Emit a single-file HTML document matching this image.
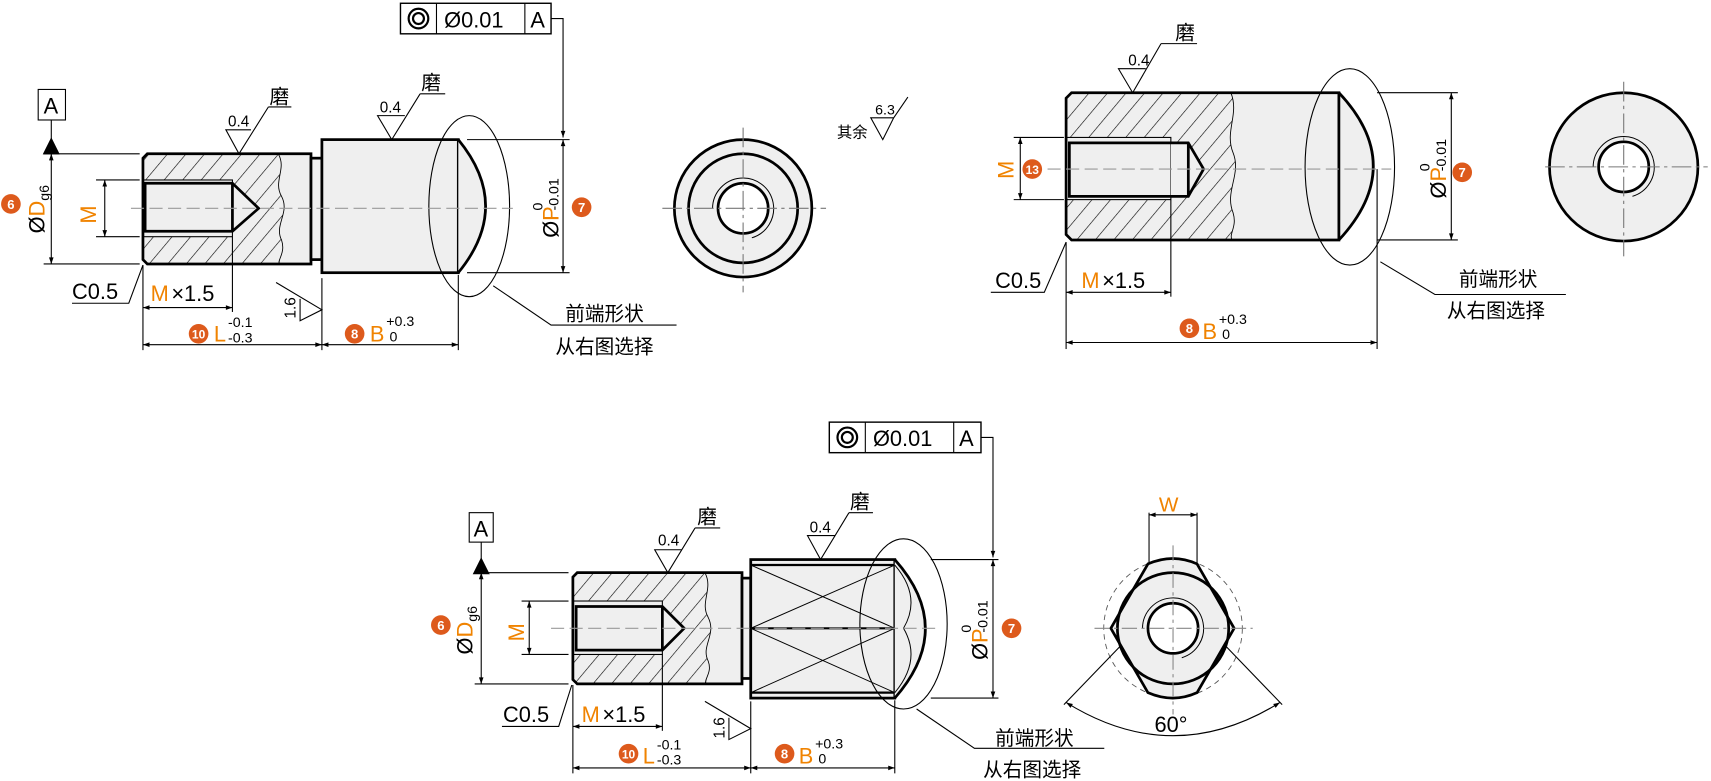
<!DOCTYPE html>
<html><head><meta charset="utf-8"><style>
html,body{margin:0;padding:0;background:#fff;}
svg{display:block;}
text{font-family:"Liberation Sans","Noto Sans CJK SC",sans-serif;}
</style></head><body>
<svg width="1711" height="781" viewBox="0 0 1568 716" preserveAspectRatio="none" xmlns="http://www.w3.org/2000/svg">
<defs>
<pattern id="h" width="13" height="13" patternUnits="userSpaceOnUse" patternTransform="rotate(40)">
<rect width="13" height="13" fill="#efefef"/><line x1="0" y1="0" x2="0" y2="13" stroke="#000" stroke-width="1.1"/></pattern>
<marker id="a" viewBox="0 0 10 10" refX="10" refY="5" markerWidth="10" markerHeight="6" orient="auto-start-reverse" markerUnits="userSpaceOnUse"><path d="M0,1.5 L10,5 L0,8.5 Z" fill="#000"/></marker>
</defs>
<g fill="none" stroke="#000" stroke-width="1">

<!-- ============ DRAWING 1 ============ -->
<rect x="367" y="3" width="138" height="28" stroke-width="1.3"/>
<line x1="400" y1="3" x2="400" y2="31"/><line x1="481" y1="3" x2="481" y2="31"/>
<circle cx="383.5" cy="17" r="9" stroke-width="2"/><circle cx="383.5" cy="17" r="5" stroke-width="2"/>
<polyline points="505,17 516,17 516,126" marker-end="url(#a)"/>
<rect x="35" y="82" width="25" height="28"/>
<line x1="47" y1="110" x2="47" y2="130"/>
<path d="M40,141 L47,127 L54,141 Z" fill="#000"/>
<path d="M135,141 L285,141 L285,242 L135,242 L131,238 L131,145 Z" fill="#efefef" stroke="none"/>
<path d="M131,145 L135,141 L255,141 C263,155 250,166 258,180 C266,195 251,206 258,220 C262,232 254,238 256,242 L135,242 L131,238 Z" fill="url(#h)" stroke="none"/>
<path d="M255,141 C263,155 250,166 258,180 C266,195 251,206 258,220 C262,232 254,238 256,242" stroke-width="0.8"/>
<rect x="131" y="165" width="82" height="52" fill="#efefef" stroke-width="1"/>
<path d="M213,168 L237,191 L213,212 Z" fill="#efefef" stroke="none"/>
<path d="M133,168 L213,168 L237,191 L213,212 L133,212 Z M213,168 L213,212" stroke-width="2.5"/>
<path d="M135,141 L285,141 L285,242 L135,242 L131,238 L131,145 Z" stroke-width="2.5"/>
<rect x="285" y="145" width="10" height="93" fill="#efefef" stroke-width="2.5"/>
<rect x="295" y="128" width="125" height="122" fill="#efefef" stroke-width="2.5"/>
<path d="M420,128 Q470,189 420,250" fill="#efefef" stroke-width="2.5"/>
<ellipse cx="430" cy="189" rx="37" ry="83"/>
<line x1="120" y1="191" x2="470" y2="191" stroke="#999" stroke-dasharray="12,5"/>
<line x1="40" y1="141" x2="128" y2="141"/><line x1="40" y1="242" x2="128" y2="242"/>
<line x1="47" y1="141" x2="47" y2="242" marker-start="url(#a)" marker-end="url(#a)"/>
<line x1="88" y1="165" x2="128" y2="165"/><line x1="88" y1="217" x2="128" y2="217"/>
<line x1="96" y1="165" x2="96" y2="217" marker-start="url(#a)" marker-end="url(#a)"/>
<line x1="428" y1="128" x2="522" y2="128"/><line x1="428" y1="250" x2="522" y2="250"/>
<line x1="516" y1="128" x2="516" y2="250" marker-start="url(#a)" marker-end="url(#a)"/>
<polyline points="66,278 118,278 131,243"/>
<line x1="213" y1="217" x2="213" y2="286"/>
<line x1="131" y1="282" x2="213" y2="282" marker-start="url(#a)" marker-end="url(#a)"/>
<line x1="131" y1="243" x2="131" y2="321"/><line x1="295" y1="255" x2="295" y2="321"/><line x1="420" y1="252" x2="420" y2="321"/>
<line x1="131" y1="316" x2="295" y2="316" marker-start="url(#a)" marker-end="url(#a)"/>
<line x1="295" y1="316" x2="420" y2="316" marker-start="url(#a)" marker-end="url(#a)"/>
<polyline points="253,259 295,284 275,294 275,274"/>
<polyline points="246,98 267,98"/><polyline points="246,98 219,141 207,119 230,119"/>
<polyline points="385,86 408,86"/><polyline points="385,86 359,128 346,106 371,106"/>
<polyline points="452,262 505,298 620,298"/>
<circle cx="681" cy="191" r="63" fill="#efefef" stroke-width="2.5"/>
<circle cx="681" cy="191" r="50" stroke-width="2.5"/>
<circle cx="681" cy="191" r="23" fill="#fff" stroke-width="2.5"/>
<path d="M653,191 A28,28 0 1,1 689,218" stroke-width="0.9"/>
<line x1="607" y1="191" x2="757" y2="191" stroke="#777" stroke-dasharray="18,4,3,4"/>
<line x1="681" y1="117" x2="681" y2="268" stroke="#777" stroke-dasharray="18,4,3,4"/>
<polyline points="832,89 819,108 798,108 809,128 819,108"/>

<!-- ============ DRAWING 2 ============ -->
<path d="M982,85 L1227,85 L1227,220 L982,220 L977,215 L977,90 Z" fill="#efefef" stroke="none"/>
<path d="M977,90 L982,85 L1128,85 C1136,105 1122,120 1130,140 C1138,160 1122,175 1130,195 C1134,208 1126,214 1129,220 L982,220 L977,215 Z" fill="url(#h)" stroke="none"/>
<path d="M1128,85 C1136,105 1122,120 1130,140 C1138,160 1122,175 1130,195 C1134,208 1126,214 1129,220" stroke-width="0.8"/>
<rect x="977" y="126" width="96" height="57" fill="#efefef"/>
<path d="M1073,131 L1089,131 L1103,155 L1089,180 L1073,180 Z" fill="#efefef" stroke="none"/>
<path d="M980,131 L1089,131 L1103,155 L1089,180 L980,180 Z M1089,131 L1089,180" stroke-width="2.5"/>
<path d="M982,85 L1227,85 L1227,220 L982,220 L977,215 L977,90 Z" stroke-width="2.5"/>
<path d="M1227,85 Q1290,152 1227,220" fill="#efefef" stroke-width="2.5"/>
<line x1="1227" y1="85" x2="1227" y2="220" stroke-width="2.5"/>
<ellipse cx="1237" cy="153" rx="41" ry="90"/>
<line x1="960" y1="155" x2="1275" y2="155" stroke="#999" stroke-dasharray="12,5"/>
<line x1="929" y1="126" x2="975" y2="126"/><line x1="929" y1="183" x2="975" y2="183"/>
<line x1="935" y1="126" x2="935" y2="183" marker-start="url(#a)" marker-end="url(#a)"/>
<line x1="1262" y1="85" x2="1336" y2="85"/><line x1="1262" y1="220" x2="1336" y2="220"/>
<line x1="1330" y1="85" x2="1330" y2="220" marker-start="url(#a)" marker-end="url(#a)"/>
<polyline points="908,268 957,268 977,222"/>
<line x1="1073" y1="183" x2="1073" y2="272"/>
<line x1="977" y1="268" x2="1073" y2="268" marker-start="url(#a)" marker-end="url(#a)"/>
<line x1="977" y1="222" x2="977" y2="320"/><line x1="1262" y1="155" x2="1262" y2="320"/>
<line x1="977" y1="314" x2="1262" y2="314" marker-start="url(#a)" marker-end="url(#a)"/>
<polyline points="1064,40 1097,40"/><polyline points="1064,40 1038,85 1025,63 1050,63"/>
<polyline points="1265,240 1315,270 1435,270"/>
<circle cx="1488" cy="153" r="68" fill="#efefef" stroke-width="2.5"/>
<circle cx="1488" cy="153" r="23" fill="#fff" stroke-width="2.5"/>
<path d="M1460,153 A28,28 0 1,1 1496,180" stroke-width="0.9"/>
<line x1="1416" y1="153" x2="1565" y2="153" stroke="#777" stroke-dasharray="18,4,3,4"/>
<line x1="1488" y1="75" x2="1488" y2="235" stroke="#777" stroke-dasharray="18,4,3,4"/>

<!-- ============ DRAWING 3 ============ -->
<rect x="760" y="387" width="139" height="28" stroke-width="1.3"/>
<line x1="793" y1="387" x2="793" y2="415"/><line x1="874" y1="387" x2="874" y2="415"/>
<circle cx="776.5" cy="401" r="9" stroke-width="2"/><circle cx="776.5" cy="401" r="5" stroke-width="2"/>
<polyline points="899,401 910,401 910,511" marker-end="url(#a)"/>
<rect x="430" y="470" width="22" height="27"/>
<line x1="441" y1="497" x2="441" y2="514"/>
<path d="M434,526 L441,512 L448,526 Z" fill="#000"/>
<path d="M529,525 L680,525 L680,627 L529,627 L525,623 L525,529 Z" fill="#efefef" stroke="none"/>
<path d="M525,529 L529,525 L646,525 C654,540 641,552 649,566 C657,582 642,592 649,606 C653,617 645,622 647,627 L529,627 L525,623 Z" fill="url(#h)" stroke="none"/>
<path d="M646,525 C654,540 641,552 649,566 C657,582 642,592 649,606 C653,617 645,622 647,627" stroke-width="0.8"/>
<rect x="525" y="551" width="82" height="49" fill="#efefef"/>
<path d="M607,556 L627,576 L607,596 Z" fill="#efefef" stroke="none"/>
<path d="M528,556 L607,556 L627,576 L607,596 L528,596 Z M607,556 L607,596" stroke-width="2.5"/>
<path d="M529,525 L680,525 L680,627 L529,627 L525,623 L525,529 Z" stroke-width="2.5"/>
<rect x="680" y="530" width="8" height="92" fill="#efefef" stroke-width="2.5"/>
<rect x="688" y="513" width="132" height="127" fill="#efefef" stroke-width="2.5"/>
<line x1="688" y1="518" x2="820" y2="518" stroke-width="2"/><line x1="688" y1="635" x2="820" y2="635" stroke-width="2"/>
<line x1="688" y1="576" x2="820" y2="576" stroke-width="2"/>
<path d="M688,518 L820,576 M688,576 L820,518 M688,576 L820,635 M688,635 L820,576" stroke-width="0.9"/>
<path d="M820,513 Q876,576 820,640" fill="#efefef" stroke-width="2.5"/>
<path d="M820,518 Q845,547 828,576 Q845,605 820,635" stroke-width="0.9"/>
<ellipse cx="828" cy="572" rx="40" ry="78"/>
<line x1="505" y1="576" x2="860" y2="576" stroke="#999" stroke-dasharray="12,5"/>
<line x1="435" y1="525" x2="521" y2="525"/><line x1="435" y1="627" x2="521" y2="627"/>
<line x1="441" y1="525" x2="441" y2="627" marker-start="url(#a)" marker-end="url(#a)"/>
<line x1="478" y1="551" x2="521" y2="551"/><line x1="478" y1="600" x2="521" y2="600"/>
<line x1="485" y1="551" x2="485" y2="600" marker-start="url(#a)" marker-end="url(#a)"/>
<line x1="853" y1="513" x2="915" y2="513"/><line x1="853" y1="640" x2="915" y2="640"/>
<line x1="910" y1="513" x2="910" y2="640" marker-start="url(#a)" marker-end="url(#a)"/>
<polyline points="460,666 512,666 524,628"/>
<line x1="607" y1="600" x2="607" y2="670"/>
<line x1="525" y1="666" x2="607" y2="666" marker-start="url(#a)" marker-end="url(#a)"/>
<line x1="525" y1="628" x2="525" y2="709"/><line x1="688" y1="643" x2="688" y2="709"/><line x1="820" y1="642" x2="820" y2="709"/>
<line x1="525" y1="704" x2="688" y2="704" marker-start="url(#a)" marker-end="url(#a)"/>
<line x1="688" y1="704" x2="820" y2="704" marker-start="url(#a)" marker-end="url(#a)"/>
<polyline points="646,643 688,668 668,678 668,658"/>
<polyline points="637,484 660,484"/><polyline points="637,484 612,525 600,504 625,504"/>
<polyline points="778,470 800,470"/><polyline points="778,470 752,513 740,491 765,491"/>
<polyline points="840,650 893,686 1012,686"/>
<circle cx="1075" cy="576" r="63.5" stroke="#555" stroke-width="0.8" stroke-dasharray="5,4"/>
<path d="M1018,576 L1052,517 Q1075,507 1097,517 L1131,576 L1097,635 Q1075,645 1052,635 Z" fill="#efefef" stroke-width="2.5"/>
<circle cx="1075" cy="576" r="51" stroke-width="2.5"/>
<circle cx="1075" cy="576" r="23" fill="#fff" stroke-width="2.5"/>
<path d="M1047,576 A28,28 0 1,1 1083,603" stroke-width="0.9"/>
<line x1="1003" y1="576" x2="1148" y2="576" stroke="#888" stroke-dasharray="14,4,3,4"/>
<line x1="1075" y1="500" x2="1075" y2="655" stroke="#888" stroke-dasharray="14,4,3,4"/>
<line x1="1053" y1="470" x2="1053" y2="516"/><line x1="1097" y1="470" x2="1097" y2="516"/>
<line x1="1053" y1="472" x2="1097" y2="472" marker-start="url(#a)" marker-end="url(#a)"/>
<line x1="1027" y1="592" x2="975" y2="646"/><line x1="1123" y1="592" x2="1175" y2="646"/>
<path d="M977,644 Q1075,705 1173,644" marker-start="url(#a)" marker-end="url(#a)"/>
</g>

<!-- ============ TEXT ============ -->
<g font-size="20" fill="#000">
<text x="407" y="25">Ø0.01</text><text x="486" y="25">A</text>
<text x="40" y="104">A</text>
<text x="66" y="274">C0.5</text>
<text x="138" y="276" fill="#f08300">M</text><text x="157" y="276">×1.5</text>
<text x="800" y="409">Ø0.01</text><text x="879" y="409">A</text>
<text x="434" y="492">A</text>
<text x="461" y="662">C0.5</text>
<text x="533" y="662" fill="#f08300">M</text><text x="552" y="662">×1.5</text>
<text x="912" y="264">C0.5</text>
<text x="991" y="264" fill="#f08300">M</text><text x="1010" y="264">×1.5</text>
<text x="1062" y="469" fill="#f08300" font-size="19">W</text>
<text x="1058" y="671">60°</text>
</g>
<g font-size="18" fill="#000">
<text x="518" y="294">前端形状</text><text x="509" y="324">从右图选择</text>
<text x="1337" y="262">前端形状</text><text x="1326" y="291">从右图选择</text>
<text x="912" y="683">前端形状</text><text x="901" y="712">从右图选择</text>
<text x="247" y="95">磨</text><text x="386" y="82">磨</text>
<text x="1077" y="36">磨</text><text x="639" y="480">磨</text><text x="779" y="466">磨</text>
</g>
<g font-size="14" fill="#000">
<text x="767" y="126">其余</text>
<text x="802" y="105" font-size="13">6.3</text>
<text x="209" y="116">0.4</text><text x="348" y="103">0.4</text>
<text x="1034" y="60">0.4</text><text x="603" y="500">0.4</text><text x="742" y="488">0.4</text>
<text transform="translate(271,292) rotate(-90)">1.6</text>
<text transform="translate(664,677) rotate(-90)">1.6</text>
</g>
<g font-size="20">
<text x="196" y="313" fill="#f08300">L</text><text x="339" y="313" fill="#f08300">B</text>
<text x="1102" y="311" fill="#f08300">B</text>
<text x="589" y="700" fill="#f08300">L</text><text x="732" y="700" fill="#f08300">B</text>
</g>
<g font-size="13" fill="#000">
<text x="209" y="300">-0.1</text><text x="209" y="314">-0.3</text>
<text x="354" y="299">+0.3</text><text x="357" y="313">0</text>
<text x="1117" y="297">+0.3</text><text x="1120" y="311">0</text>
<text x="602" y="687">-0.1</text><text x="602" y="701">-0.3</text>
<text x="747" y="686">+0.3</text><text x="750" y="700">0</text>
</g>
<g font-size="20">
<text transform="translate(88,205) rotate(-90)" fill="#f08300">M</text>
<text transform="translate(41,214) rotate(-90)"><tspan>Ø</tspan><tspan fill="#f08300">D</tspan><tspan font-size="13" dy="4">g6</tspan></text>
<text transform="translate(512,218) rotate(-90)"><tspan>Ø</tspan><tspan fill="#f08300">P</tspan></text>
<text transform="translate(497,193) rotate(-90)" font-size="13">0</text>
<text transform="translate(512,193) rotate(-90)" font-size="13">-0.01</text>
<text transform="translate(929,164) rotate(-90)" fill="#f08300">M</text>
<text transform="translate(1325,182) rotate(-90)"><tspan>Ø</tspan><tspan fill="#f08300">P</tspan></text>
<text transform="translate(1310,157) rotate(-90)" font-size="13">0</text>
<text transform="translate(1325,157) rotate(-90)" font-size="13">-0.01</text>
<text transform="translate(480,588) rotate(-90)" fill="#f08300">M</text>
<text transform="translate(433,600) rotate(-90)"><tspan>Ø</tspan><tspan fill="#f08300">D</tspan><tspan font-size="13" dy="4">g6</tspan></text>
<text transform="translate(905,605) rotate(-90)"><tspan>Ø</tspan><tspan fill="#f08300">P</tspan></text>
<text transform="translate(890,580) rotate(-90)" font-size="13">0</text>
<text transform="translate(905,580) rotate(-90)" font-size="13">-0.01</text>
</g>
<g font-size="12" font-weight="bold" fill="#fff" text-anchor="middle">
<circle cx="10" cy="187" r="9" fill="#dd5a1c"/><text x="10" y="191.5">6</text>
<circle cx="533" cy="190" r="9" fill="#dd5a1c"/><text x="533" y="194.5">7</text>
<circle cx="182" cy="306" r="9" fill="#dd5a1c"/><text x="182" y="310.5" font-size="11">10</text>
<circle cx="325" cy="306" r="9" fill="#dd5a1c"/><text x="325" y="310.5">8</text>
<circle cx="946" cy="155" r="9" fill="#dd5a1c"/><text x="946" y="159.5" font-size="11">13</text>
<circle cx="1340" cy="158" r="9" fill="#dd5a1c"/><text x="1340" y="162.5">7</text>
<circle cx="1090" cy="301" r="9" fill="#dd5a1c"/><text x="1090" y="305.5">8</text>
<circle cx="404" cy="573" r="9" fill="#dd5a1c"/><text x="404" y="577.5">6</text>
<circle cx="927" cy="576" r="9" fill="#dd5a1c"/><text x="927" y="580.5">7</text>
<circle cx="576" cy="691" r="9" fill="#dd5a1c"/><text x="576" y="695.5" font-size="11">10</text>
<circle cx="719" cy="691" r="9" fill="#dd5a1c"/><text x="719" y="695.5">8</text>
</g>
</svg>
</body></html>
